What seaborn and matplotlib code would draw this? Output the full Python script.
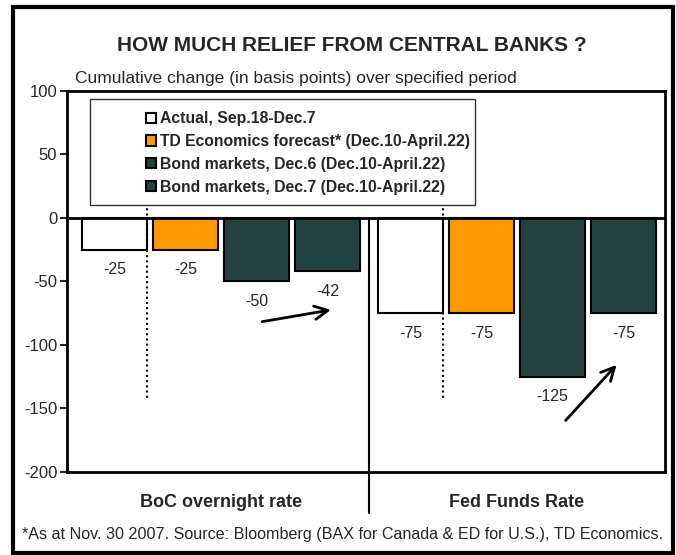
import matplotlib
matplotlib.use("Agg")
import matplotlib.pyplot as plt
import seaborn as sns
import pandas as pd
from matplotlib.patches import Patch, Rectangle

groups = ["BoC overnight rate", "Fed Funds Rate"]
series = ["Actual, Sep.18-Dec.7",
          "TD Economics forecast* (Dec.10-April.22)",
          "Bond markets, Dec.6 (Dec.10-April.22)",
          "Bond markets, Dec.7 (Dec.10-April.22)"]
boc_values = [-25, -25, -50, -42]
fed_values = [-75, -75, -125, -75]
colors = ["#FFFFFF", "#FF9900", "#224242", "#224242"]
yticks = [-200, -150, -100, -50, 0, 50, 100]

rows = []
for s, b, f in zip(series, boc_values, fed_values):
    rows.append({"group": groups[0], "series": s, "value": b})
    rows.append({"group": groups[1], "series": s, "value": f})
df = pd.DataFrame(rows)

sns.set_style("white")
plt.rcParams["font.family"] = ["Liberation Sans", "DejaVu Sans"]

fig = plt.figure(figsize=(6.76, 5.55), dpi=100)
ax = fig.add_axes([67/676, 1-472/555, 598/676, 381/555])

sns.barplot(data=df, x="group", y="value", hue="series", order=groups,
            hue_order=series, palette=colors, saturation=1, edgecolor="black",
            linewidth=1.5, width=0.96, gap=0.085, ax=ax, legend=False, zorder=3)

ax.set_ylim(-200, 100)
ax.set_xlim(-0.52, 1.5)
ax.set_yticks(yticks)
ax.set_yticklabels([str(v) for v in yticks], fontsize=12)
ax.tick_params(axis="y", direction="out", length=5, width=1.5, left=True, pad=2)
ax.tick_params(axis="x", bottom=False, labelbottom=False)
ax.set_xlabel("")
ax.set_ylabel("")
for sp in ax.spines.values():
    sp.set_visible(True)
    sp.set_linewidth(2)
    sp.set_color("black")
ax.axhline(0, color="black", lw=2, zorder=4)

# value labels
for cont in ax.containers:
    ax.bar_label(cont, labels=[f"{int(v)}" for v in cont.datavalues],
                 padding=9, fontsize=11.5)

# dotted separators at the right edge of the "actual" bars
bars = sorted([p for p in ax.patches if p.get_width() > 0], key=lambda p: p.get_x())
for i in (0, 4):
    xm = bars[i].get_x() + bars[i].get_width()
    ax.plot([xm, xm], [12, -143], ls=(0, (1, 1.5)), color="black", lw=1.5, zorder=4)

# group divider
ax.plot([0.5, 0.5], [0, -232], color="black", lw=1.5, clip_on=False, zorder=4)

# legend
ax.add_patch(Rectangle((0.0385, 0.70), 0.644, 0.279, transform=ax.transAxes,
                       facecolor="white", edgecolor="#333333", lw=1, zorder=5))
handles = [Patch(facecolor=c, edgecolor="black", lw=1.5) for c in colors]
leg = ax.legend(handles, series, loc="upper left", bbox_to_anchor=(0.132, 0.947),
                frameon=False, borderpad=0, borderaxespad=0,
                handlelength=0.62, handleheight=0.62, handletextpad=0.3,
                labelspacing=0.5, prop={"weight": "bold", "size": 11.3})
leg.set_zorder(6)

# arrows
ax.annotate("", xy=(0.381, -72), xytext=(0.130, -82),
            arrowprops=dict(arrowstyle="->", lw=2, mutation_scale=24, color="black"),
            zorder=6)
ax.annotate("", xy=(1.343, -114), xytext=(1.158, -161),
            arrowprops=dict(arrowstyle="->", lw=2, mutation_scale=24, color="black"),
            zorder=6)

# texts
fig.text(352/676, 1-45/555, "HOW MUCH RELIEF FROM CENTRAL BANKS ?", ha="center",
         va="center", fontsize=15, fontweight="bold")
fig.text(75/676, 1-78/555, "Cumulative change (in basis points) over specified period",
         ha="left", va="center", fontsize=12.5)
for g, xc in zip(groups, [0, 1]):
    ax.text(xc, -224, g, ha="center", va="center", fontsize=13,
            fontweight="bold", clip_on=False)
fig.text(343/676, 1-535/555,
         "*As at Nov. 30 2007. Source: Bloomberg (BAX for Canada & ED for U.S.), TD Economics.",
         ha="center", va="center", fontsize=11.6)

# outer border
fig.patches.append(Rectangle((13/676, 2/555), 660/676, 546/555, transform=fig.transFigure,
                             facecolor="none", edgecolor="black", lw=3))

fig.savefig("out.png", dpi=100)
